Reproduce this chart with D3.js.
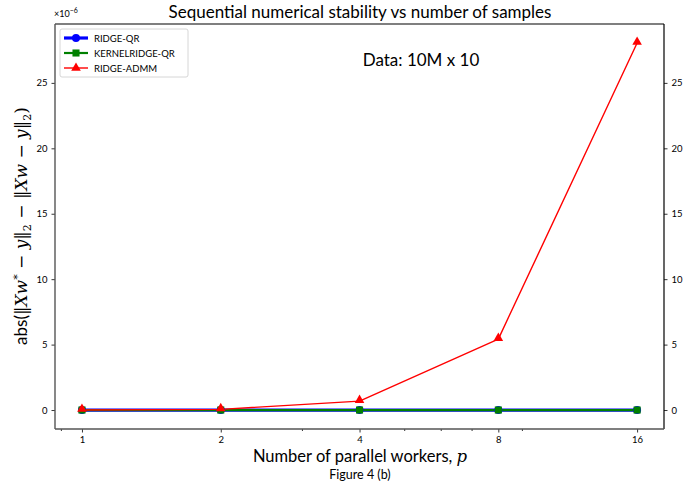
<!DOCTYPE html>
<html>
<head>
<meta charset="utf-8">
<script src="https://cdn.jsdelivr.net/npm/d3@7"></script>
<style>
  html, body { margin: 0; padding: 0; background: #fff; }
  svg { display: block; }
  text { font-family: Lato, "DejaVu Sans", sans-serif; fill: #000; }
</style>
</head>
<body>
<svg id="chart" width="686" height="486"></svg>
<script>
// Number of parallel workers on the x axis (log scale)
const workers = [1, 2, 4, 8, 16];
// Error difference, in units of 1e-6
const ridgeQR = [0, 0, 0, 0, 0];
const kernelRidgeQR = [0, 0, 0, 0, 0];
const ridgeADMM = [0, 0.05, 0.68, 5.42, 28.05];
// Tick values
const yTicks = [0, 5, 10, 15, 20, 25];
const xMinorTicks = [0.9, 3, 5, 6, 7, 9];

const series = [
  { name: "RIDGE-QR", values: ridgeQR, color: "#0000ff", width: 3.2, marker: "circle" },
  { name: "KERNELRIDGE-QR", values: kernelRidgeQR, color: "#008000", width: 2.2, marker: "square" },
  { name: "RIDGE-ADMM", values: ridgeADMM, color: "#ff0000", width: 1.4, marker: "triangle" }
];

const svg = d3.select("#chart");
const m = { left: 55, right: 664, top: 24, bottom: 429 };

const x = d3.scaleLog().base(2).domain([0.874, 18.3]).range([m.left, m.right]);
const y = d3.scaleLinear().domain([-1.45, 29.5]).range([m.bottom, m.top]);

const g = svg.append("g");

// Lines
const line = d3.line().x((d, i) => x(workers[i])).y(d => y(d));
series.forEach(s => {
  g.append("path")
    .datum(s.values)
    .attr("d", line)
    .attr("fill", "none")
    .attr("stroke", s.color)
    .attr("stroke-width", s.width)
    .attr("stroke-linejoin", "round");
});

// Markers
const symbolFor = { circle: d3.symbolCircle, square: d3.symbolSquare, triangle: d3.symbolTriangle };
const sizeFor = { circle: 50, square: 50, triangle: 40 };
series.forEach(s => {
  g.selectAll(null)
    .data(s.values)
    .enter()
    .append("path")
    .attr("d", d3.symbol().type(symbolFor[s.marker]).size(sizeFor[s.marker]))
    .attr("transform", (d, i) => `translate(${x(workers[i])},${y(d) - (s.marker === "triangle" ? 1 : 0)})`)
    .attr("fill", s.color);
});

// Axes
const fmt = d3.format("d");
const xAxis = d3.axisBottom(x).tickValues(workers).tickFormat(fmt).tickSize(3.5).tickPadding(4);
const xMinor = d3.axisBottom(x).tickValues(xMinorTicks).tickFormat("").tickSize(2);
const yLeft = d3.axisLeft(y).tickValues(yTicks).tickFormat(fmt).tickSize(3.5).tickPadding(4);
const yRight = d3.axisRight(y).tickValues(yTicks).tickFormat(fmt).tickSize(3.5).tickPadding(4);

function styleAxis(sel) {
  sel.select(".domain").remove();
  sel.selectAll(".tick line").attr("stroke", "#000").attr("stroke-width", 0.8);
  sel.selectAll(".tick text").style("font-size", "9.5px").attr("fill", "#222");
}

svg.append("g").attr("transform", `translate(0,${m.bottom})`).call(xAxis).call(styleAxis);
svg.append("g").attr("transform", `translate(0,${m.bottom})`).call(xMinor).call(styleAxis);
svg.append("g").attr("transform", `translate(${m.left},0)`).call(yLeft).call(styleAxis);
svg.append("g").attr("transform", `translate(${m.right},0)`).call(yRight).call(styleAxis);

// Frame
svg.append("line").attr("x1", m.left).attr("x2", m.right).attr("y1", m.top).attr("y2", m.top)
  .attr("stroke", "#000").attr("stroke-width", 1.2);
svg.append("line").attr("x1", m.right).attr("x2", m.right).attr("y1", m.top).attr("y2", m.bottom)
  .attr("stroke", "#000").attr("stroke-width", 1.2);
svg.append("line").attr("x1", m.left).attr("x2", m.left).attr("y1", m.top).attr("y2", m.bottom)
  .attr("stroke", "#555").attr("stroke-width", 1.4);
svg.append("line").attr("x1", m.left).attr("x2", m.right).attr("y1", m.bottom).attr("y2", m.bottom)
  .attr("stroke", "#555").attr("stroke-width", 1.4);

// Offset label
const off = svg.append("text").attr("x", 54).attr("y", 17).style("font-size", "9px").attr("fill", "#222");
off.append("tspan").text("×10");
off.append("tspan").attr("dy", -4).style("font-size", "7px").text("−6");

// Title
svg.append("text").attr("x", 360).attr("y", 18).attr("text-anchor", "middle")
  .style("font-size", "17px").text("Sequential numerical stability vs number of samples");

// Annotation
svg.append("text").attr("x", 421).attr("y", 66).attr("text-anchor", "middle")
  .style("font-size", "17px").text("Data:  10M x 10");

// X label
const xl = svg.append("text").attr("x", 360).attr("y", 462).attr("text-anchor", "middle").style("font-size", "16.5px");
xl.append("tspan").text("Number of parallel workers, ");
xl.append("tspan").style("font-style", "italic").style("font-family", "'DejaVu Serif', serif").text("p");

svg.append("text").attr("x", 360).attr("y", 479).attr("text-anchor", "middle")
  .style("font-size", "12.5px").text("Figure 4 (b)");

// Y label
const yl = svg.append("text").attr("transform", "translate(27,226) rotate(-90)")
  .attr("text-anchor", "middle").style("font-size", "17px");
yl.append("tspan").text("abs(");
const mathParts = [
  ["‖", false], ["X", true], ["w", true], ["*", false, -6], [" − ", false, 6], ["y", true], ["‖", false],
  ["2", false, 4], [" − ‖", false, -4], ["X", true], ["w", true], [" − ", false], ["y", true], ["‖", false],
  ["2", false, 4], [")", false, -4]
];
mathParts.forEach(([t, it, dy]) => {
  const ts = yl.append("tspan").text(t).style("font-family", "'DejaVu Serif', 'Liberation Serif', serif");
  if (it) ts.style("font-style", "italic");
  if (dy) ts.attr("dy", dy);
  if (t === "*" || t === "2") ts.style("font-size", "11px");
});

// Legend
const lg = svg.append("g").attr("transform", "translate(60,29)");
lg.append("rect").attr("width", 128).attr("height", 48).attr("rx", 2)
  .attr("fill", "#fff").attr("fill-opacity", 0.8).attr("stroke", "#ccc").attr("stroke-width", 0.8);
series.forEach((s, i) => {
  const yy = 9 + i * 15;
  lg.append("line").attr("x1", 4).attr("x2", 28).attr("y1", yy).attr("y2", yy)
    .attr("stroke", s.color).attr("stroke-width", s.width);
  lg.append("path").attr("d", d3.symbol().type(symbolFor[s.marker]).size(sizeFor[s.marker]))
    .attr("transform", `translate(16,${yy})`).attr("fill", s.color);
  lg.append("text").attr("x", 34).attr("y", yy + 3.5).style("font-size", "9.5px").attr("fill", "#222").text(s.name);
});
</script>
</body>
</html>
